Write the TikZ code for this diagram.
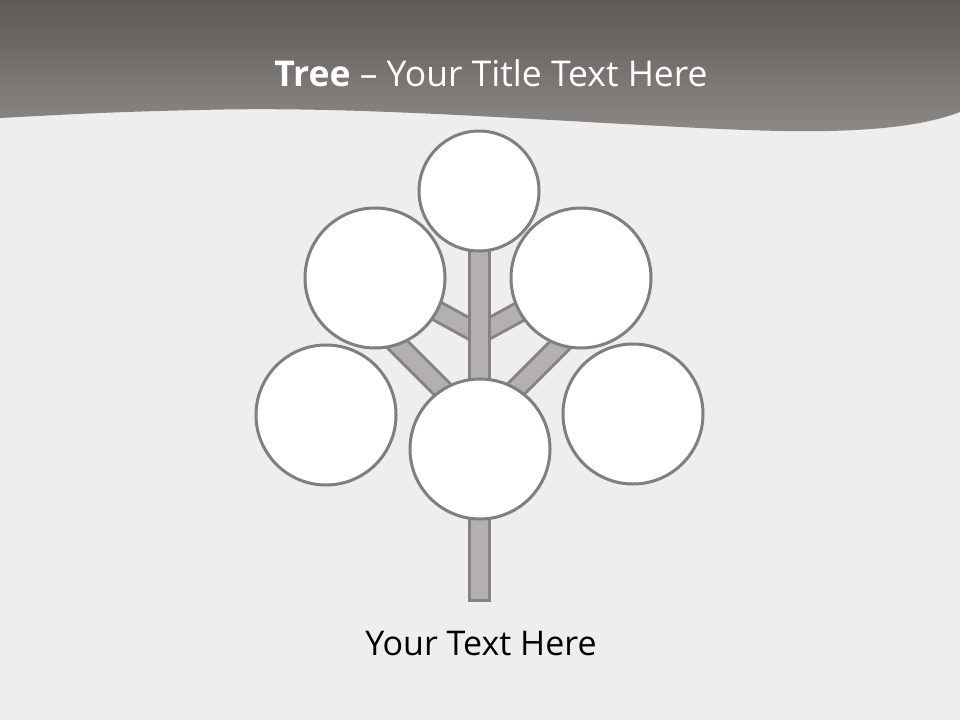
\documentclass[tikz,border=0pt]{standalone}
\usepackage{fontspec}
\setmainfont{Open Sans}
\definecolor{bgpaper}{HTML}{EEEEEE}
\definecolor{headtop}{HTML}{5E5957}
\definecolor{headbot}{HTML}{8E8A88}
\definecolor{barfill}{HTML}{B4B0AF}
\definecolor{barline}{HTML}{858383}
\definecolor{ringline}{HTML}{7F7F7F}
\tikzset{
  leaf/.style={circle, draw=ringline, line width=3pt, fill=white, inner sep=0pt, minimum size=#1},
  branch/.style={draw=barline, line width=3pt, double=barfill, double distance=16pt},
  trunkbar/.style={draw=barline, line width=3pt, fill=barfill},
}
\begin{document}
\begin{tikzpicture}[x=1pt,y=-1pt]
\useasboundingbox (0,0) rectangle (960,720);
% background
\fill[bgpaper] (0,0) rectangle (960,720);
% header with wavy lower edge
\shade[top color=headtop, bottom color=headbot]
  (0,0) -- (960,0) -- (960,112)
  .. controls (900,135) and (800,133) .. (700,128)
  .. controls (500,118) and (350,106) .. (200,110)
  .. controls (100,112) and (40,116) .. (0,118) -- cycle;
\node[text=white, font=\fontsize{35.5}{40}\selectfont, anchor=base] (title) at (491,86)
  {\textbf{Tree} – Your Title Text Here};
% branch coordinates
\coordinate (ulstart) at (479,334);
\coordinate (ulend) at (395,288);
\coordinate (urstart) at (479,334);
\coordinate (urend) at (563,288);
\coordinate (llstart) at (479,426);
\coordinate (llend) at (380,327);
\coordinate (lrstart) at (479,426);
\coordinate (lrend) at (578,327);
\draw[branch] (ulstart) -- (ulend);
\draw[branch] (urstart) -- (urend);
\draw[branch] (llstart) -- (llend);
\draw[branch] (lrstart) -- (lrend);
% trunk
\draw[trunkbar] (469,240) rectangle (489,600);
% leaves
\node[leaf=120pt] (top) at (479,191) {};
\node[leaf=140pt] (upl) at (375,278) {};
\node[leaf=140pt] (upr) at (581,278) {};
\node[leaf=140pt] (lol) at (326,415) {};
\node[leaf=140pt] (bot) at (480,449) {};
\node[leaf=140pt] (lor) at (633,414) {};
% caption
\node[text=black, font=\fontsize{34}{40}\selectfont, anchor=base] (caption) at (481,655) {Your Text Here};
\end{tikzpicture}
\end{document}
